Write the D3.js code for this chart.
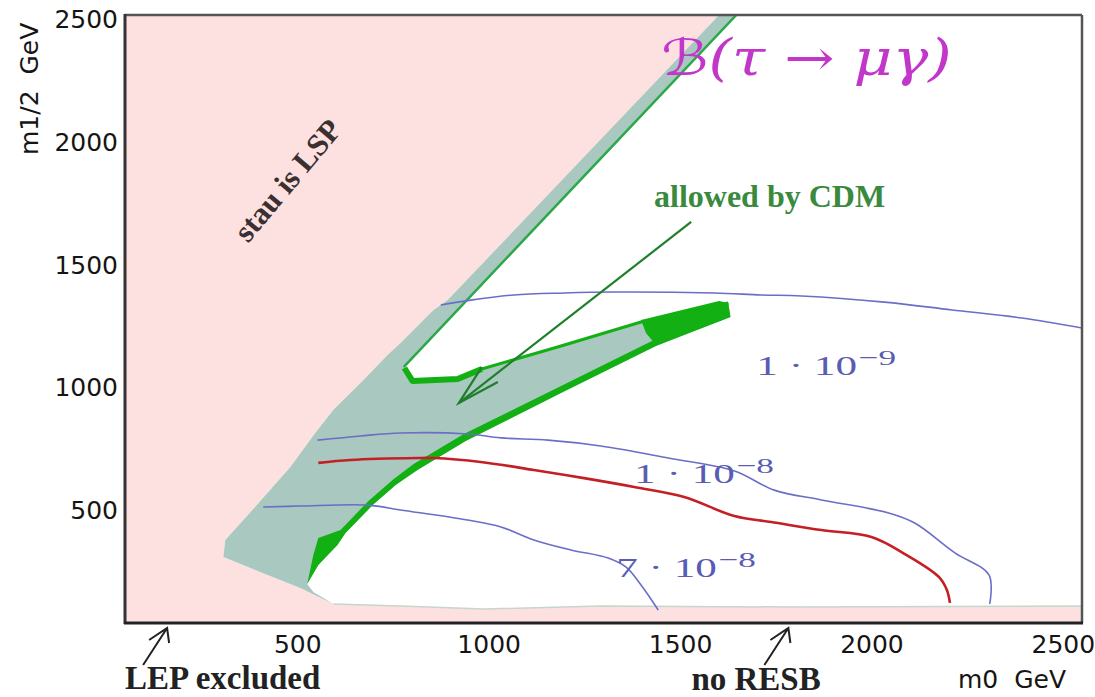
<!DOCTYPE html>
<html><head><meta charset="utf-8">
<script src="https://cdn.jsdelivr.net/npm/d3@7"></script>
<style>
html,body{margin:0;padding:0;background:#fff;}
svg{display:block;}
</style></head>
<body>
<svg id="chart" width="1095" height="697"></svg>
<script>
// m0 / m1/2 plane, values in GeV
const xTicks = [500, 1000, 1500, 2000, 2500];
const yTicks = [500, 1000, 1500, 2000, 2500];

// left edge of the region where the neutralino is the LSP (top to bottom, then along its lower rim)
const stauEdge = [[1602,2520],[893,1357],[856,1317],[770,1182],[736,1133],[673,1031],[594,909],[547,815],
  [482,676],[422,570],[364,468],[312,379],[307,309],[403,248],[508,183],[594,118]];
// lower boundary of the allowed region (LEP / no radiative EWSB), left to right
const lepEdge = [[594,118],[770,109],[987,97],[1293,109],[1817,105],[2550,109]];
// outer (right) edge of the coannihilation strip, bottom to top
const stripOuter = [[526,199],[555,277],[605,358],[626,407],[697,521],[757,603],[814,664],[940,782],
  [1189,978],[1437,1170],[1631,1288]];
// inner (left) edge of the strip, top to bottom
const stripInner = [[1437,1198],[1189,1007],[935,811],[804,689],[752,627],[686,538],[613,419],[555,387],[542,317],[526,199]];
// upper rim of the tongue and its tip
const tongueTop = [[982,1076],[1189,1170],[1398,1268],[1555,1317],[1626,1345]];
const tongueTip = [[1398,1276],[1602,1353],[1626,1345],[1632,1288],[1437,1174],[1411,1223]];
const loopBottom = [[780,1080],[801,1027],[919,1035],[982,1076]];
const bandEdge = [[1647,2520],[778,1084]];

// branching-ratio contours
const contour9 = [[875,1337],[953,1357],[1066,1378],[1197,1386],[1327,1390],[1589,1386],[1712,1378],[1817,1374],
  [2034,1349],[2210,1317],[2393,1284],[2550,1243]];
const contour8 = [[553,786],[665,803],[770,815],[945,811],[1032,795],[1155,786],[1293,762],[1469,713],[1642,660],
  [1746,582],[1869,542],[2045,489],[2113,448],[2218,326],[2307,236],[2309,118]];
const contour7e8 = [[411,513],[508,517],[684,521],[770,501],[945,460],[1032,432],[1118,379],[1215,338],[1312,305],
  [1359,268],[1398,195],[1443,93]];
const boundRed = [[555,693],[639,705],[814,713],[856,713],[979,697],[1118,664],[1249,631],[1380,595],[1511,554],
  [1642,476],[1738,452],[1869,419],[2000,391],[2092,317],[2176,228],[2197,175],[2205,122]];

const contourLabels = [
  {base: "1 \u00b7 10", exp: "\u22129", m0: 1699, m12: 1052},
  {base: "1 \u00b7 10", exp: "\u22128", m0: 1380, m12: 611},
  {base: "7 \u00b7 10", exp: "\u22128", m0: 1333, m12: 228}
];
const edgeMarks = [
  {label: "LEP excluded", m0: 160, dx: -42, base: 689},
  {label: "no RESB", m0: 1783, dx: -97, base: 690}
];

const svg = d3.select("#chart");
const x = d3.scaleLinear().domain([50, 2550]).range([125, 1082]);
const y = d3.scaleLinear().domain([40, 2520]).range([623, 15]);
const P = d => [x(d[0]), y(d[1])];
const poly = pts => "M" + pts.map(P).map(p => p.join(",")).join("L") + "Z";
const lin = d3.line().x(d => x(d[0])).y(d => y(d[1]));
const smooth = d3.line().x(d => x(d[0])).y(d => y(d[1])).curve(d3.curveCatmullRom.alpha(0.5));

svg.append("clipPath").attr("id", "plot").append("rect")
  .attr("x", x(50)).attr("y", y(2520)).attr("width", x(2550) - x(50)).attr("height", y(40) - y(2520));
const g = svg.append("g").attr("clip-path", "url(#plot)");

// excluded background
g.append("rect").attr("x", x(50)).attr("y", y(2520)).attr("width", x(2550) - x(50)).attr("height", y(40) - y(2520))
  .attr("fill", "#fde1e1");

// allowed region
const whitePts = [[1602,2520],[2550,2520]].concat(lepEdge.slice().reverse(), stauEdge.slice(0, -1).reverse());
g.append("path").attr("d", poly(whitePts)).attr("fill", "#ffffff");
g.append("path").attr("d", lin(lepEdge)).attr("fill", "none").attr("stroke", "#c6d6cc").attr("stroke-width", 1.5);

// grey band
const greyPts = stauEdge.concat([[542,166]], stripOuter, [[1626,1345]], tongueTop.slice().reverse(),
  loopBottom.slice().reverse(), bandEdge.slice().reverse());
g.append("path").attr("d", poly(greyPts)).attr("fill", "#a9c8bf");

// cold dark matter strip
const cdm = "#12b012";
g.append("path").attr("d", poly(stripInner.concat(stripOuter.slice(1)))).attr("fill", cdm);
g.append("path").attr("d", poly(tongueTip)).attr("fill", cdm);
g.append("path").attr("d", lin(bandEdge)).attr("fill", "none").attr("stroke", "#2aa84a").attr("stroke-width", 2.5);
g.append("path").attr("d", lin(loopBottom)).attr("fill", "none").attr("stroke", cdm).attr("stroke-width", 6)
  .attr("stroke-linejoin", "round");
g.append("path").attr("d", lin(tongueTop)).attr("fill", "none").attr("stroke", cdm).attr("stroke-width", 3);

// contours
[contour9, contour8, contour7e8].forEach(c => g.append("path").attr("d", smooth(c)).attr("fill", "none")
  .attr("stroke", "#6a6ec6").attr("stroke-width", 1.6));
g.append("path").attr("d", smooth(boundRed)).attr("fill", "none").attr("stroke", "#c41f24").attr("stroke-width", 2.6);

// arrow pointing into the strip
const arrow = [[1529,1676],[922,937]];
g.append("path").attr("d", lin(arrow)).attr("stroke", "#1f7f2a").attr("stroke-width", 2.2).attr("fill", "none");
g.append("path").attr("d", lin([[1024,1023],[922,937],[982,1084]])).attr("stroke", "#1f7f2a")
  .attr("stroke-width", 2.2).attr("fill", "none");

// contour labels
contourLabels.forEach(l => {
  const t = svg.append("text").attr("transform", `translate(${x(l.m0)},${y(l.m12)}) scale(1.6,1)`)
    .attr("font-family", "Liberation Serif").attr("font-size", 27).attr("fill", "#5a5cb4");
  t.append("tspan").text(l.base);
  t.append("tspan").attr("dx", 1).attr("dy", -10).attr("font-size", 22).text(l.exp);
});

// title
const title = svg.append("text").attr("transform", `translate(${x(1451)},${y(2275)}) scale(1.2,1)`)
  .attr("font-family", "DejaVu Serif").attr("font-style", "italic").attr("font-size", 50).attr("fill", "#c236c9");
title.append("tspan").attr("font-family", "DejaVu Sans").attr("font-style", "normal").text("\u212c");
title.append("tspan").text("(\u03c4 \u2192 \u03bc\u03b3)");

// annotations
svg.append("text").attr("transform", `translate(${x(474)},${y(1847)}) rotate(-50)`).attr("text-anchor", "middle")
  .attr("dy", "0.35em").attr("font-family", "Liberation Serif").attr("font-weight", "bold").attr("font-size", 31)
  .attr("fill", "#3a3030").text("stau is LSP");
svg.append("text").attr("x", x(1432)).attr("y", y(1737)).attr("font-family", "Liberation Serif")
  .attr("font-weight", "bold").attr("font-size", 32).attr("fill", "#3a8a3e").text("allowed by CDM");

// frame
svg.append("line").attr("x1", 125).attr("x2", 1082).attr("y1", 15).attr("y2", 15).attr("stroke", "#555").attr("stroke-width", 2.5);
svg.append("line").attr("x1", 1082).attr("x2", 1082).attr("y1", 15).attr("y2", 623).attr("stroke", "#555").attr("stroke-width", 2.5);
svg.append("line").attr("x1", 125).attr("x2", 125).attr("y1", 14).attr("y2", 624).attr("stroke", "#333").attr("stroke-width", 3);
svg.append("line").attr("x1", 124).attr("x2", 1083).attr("y1", 623).attr("y2", 623).attr("stroke", "#222").attr("stroke-width", 3);

// axes
const tickFont = sel => sel.selectAll("text").attr("font-family", "DejaVu Sans").attr("font-size", 25).attr("fill", "#151515");
const ya = svg.append("g").attr("transform", "translate(125,0)")
  .call(d3.axisLeft(y).tickValues(yTicks).tickSize(0).tickPadding(7).tickFormat(d3.format("d")));
ya.select(".domain").remove(); tickFont(ya);
const xa = svg.append("g").attr("transform", "translate(0,623)")
  .call(d3.axisBottom(x).tickValues(xTicks).tickSize(0).tickPadding(12).tickFormat(d3.format("d")));
xa.select(".domain").remove(); tickFont(xa);

svg.append("text").attr("transform", "translate(38,155) rotate(-90)").attr("font-family", "DejaVu Sans")
  .attr("font-size", 25).attr("fill", "#151515").text("m1/2\u00a0\u00a0GeV");
svg.append("text").attr("x", 958).attr("y", 688).attr("font-family", "DejaVu Sans")
  .attr("font-size", 25).attr("fill", "#151515").text("m0\u00a0\u00a0GeV");

// marks below the m0 axis
edgeMarks.forEach(m => {
  const tx = x(m.m0), ty = 628;
  svg.append("path").attr("d", `M${tx - 24},${ty + 37}L${tx},${ty}M${tx - 18},${ty + 12}L${tx},${ty}L${tx + 2},${ty + 15}`)
    .attr("stroke", "#222").attr("stroke-width", 2).attr("fill", "none");
  svg.append("text").attr("x", tx + m.dx).attr("y", m.base).attr("font-family", "Liberation Serif")
    .attr("font-weight", "bold").attr("font-size", 33).attr("fill", "#222").text(m.label);
});
</script>
</body></html>
